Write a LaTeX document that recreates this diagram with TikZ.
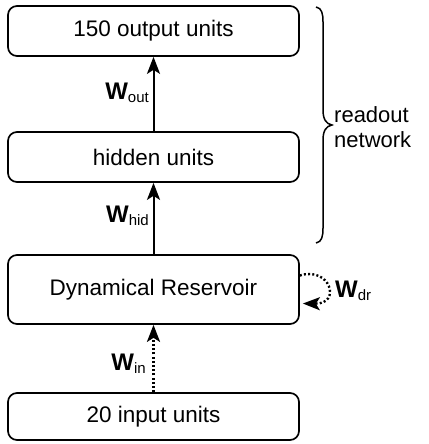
\documentclass[tikz,border=0pt]{standalone}
\usepackage{fontspec}
\setmainfont{Liberation Sans}
\usetikzlibrary{arrows.meta}
\begin{document}
\begin{tikzpicture}[x=1pt,y=-1pt,
  box/.style={draw, line width=1.7pt, rounded corners=9pt, minimum width=291pt, inner sep=0pt,
    font=\fontsize{22.5}{26}\selectfont},
  tip/.style={-{Stealth[length=17pt,width=13pt,inset=4pt]}},
  conn/.style={line width=2pt, tip},
  dconn/.style={line width=2.4pt, dash pattern=on 2pt off 2.2pt, tip},
  wlab/.style={anchor=east, inner sep=0pt, font=\fontsize{24}{26}\selectfont},
  lbl/.style={inner sep=0pt, align=left, font=\fontsize{22}{25}\selectfont}]
\useasboundingbox (0,0) rectangle (428,444);
\newcommand{\wsub}[1]{\textbf{W}\raisebox{-3pt}{\fontsize{15}{15}\selectfont #1}}
\node[box, minimum height=50pt] (out) at (153.5,31) {150 output units};
\node[box, minimum height=50pt] (hid) at (153.5,157) {hidden units};
\node[box, minimum height=69pt] (res) at (153.5,289.5) {Dynamical Reservoir};
\node[box, minimum height=47pt] (in) at (153.5,416.5) {20 input units};
\draw[conn] (hid.north) -- (out.south);
\draw[conn] (res.north) -- (hid.south);
\draw[dconn] (in.north) -- (res.south);
\node[wlab] (wout) at (149,93) {\wsub{out}};
\node[wlab] (whid) at (149,216) {\wsub{hid}};
\node[wlab] (win) at (146,364) {\wsub{in}};
\node[anchor=west, inner sep=0pt, font=\fontsize{24}{26}\selectfont] (wdr) at (335,291) {\wsub{dr}};
\coordinate (l1) at ([yshift=14pt]res.east);
\coordinate (l2) at ([xshift=3pt,yshift=-14pt]res.east);
\draw[dconn] (l1) .. controls (330,266) and (342,304) .. (l2);
\draw[line width=1.5pt] (316,7) .. controls (322,8) and (323,14) .. (323,22)
  -- (323,110) .. controls (323,119) and (326,124) .. (332,125)
  .. controls (326,126) and (323,131) .. (323,140)
  -- (323,228) .. controls (323,236) and (322,242) .. (316,243);
\node[lbl, anchor=west] (ro) at (334,127) {readout\\network};
\end{tikzpicture}
\end{document}
